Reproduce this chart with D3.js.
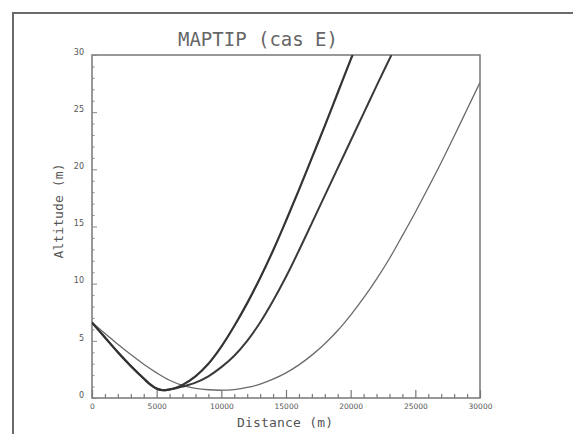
<!DOCTYPE html>
<html>
<head>
<meta charset="utf-8">
<script src="https://cdn.jsdelivr.net/npm/d3@7"></script>
<style>
  html, body { margin: 0; padding: 0; background: #fff; }
  svg { display: block; }
</style>
</head>
<body>
<script>
// Ray paths, distance (m) -> altitude (m)
const rayA = [[0,6.6],[1000,5.3],[2000,4.0],[3000,2.8],[4000,1.7],[4600,1.1],[5000,0.82],[5500,0.68],[6000,0.75],[6500,0.9],[7000,1.15],[8000,1.9],[9000,3.0],[10000,4.5],[11000,6.3],[12000,8.3],[13000,10.5],[14000,12.9],[15000,15.5],[16000,18.2],[17000,21.0],[18000,23.8],[19000,26.7],[20000,29.6],[20150,30]];
const rayB = [[0,6.6],[1000,5.3],[2000,4.0],[3000,2.8],[4000,1.7],[4600,1.1],[5000,0.82],[5500,0.68],[6000,0.75],[6500,0.85],[7000,1.0],[8000,1.35],[9000,1.9],[10000,2.7],[11000,3.7],[12000,5.0],[13000,6.6],[14000,8.5],[15000,10.6],[16000,12.9],[17000,15.3],[18000,17.7],[19000,20.1],[20000,22.5],[21000,24.9],[22000,27.3],[23150,30]];
const rayC = [[0,6.6],[1000,5.65],[2000,4.7],[3000,3.8],[4000,2.95],[5000,2.2],[6000,1.55],[7000,1.1],[8000,0.85],[9000,0.72],[10000,0.68],[11000,0.74],[12000,0.92],[13000,1.22],[14000,1.65],[15000,2.2],[16000,2.9],[17000,3.75],[18000,4.75],[19000,5.9],[20000,7.25],[21000,8.75],[22000,10.4],[23000,12.2],[24000,14.2],[25000,16.25],[26000,18.4],[27000,20.6],[28000,22.9],[29000,25.25],[30000,27.6]];

const xTicks = [0, 5000, 10000, 15000, 20000, 25000, 30000];
const yTicks = [0, 5, 10, 15, 20, 25, 30];

const width = 573, height = 434;
const margin = { top: 55, right: 93, bottom: 36, left: 92 };

const x = d3.scaleLinear().domain([0, 30000]).range([margin.left, width - margin.right]);
const y = d3.scaleLinear().domain([0, 30]).range([height - margin.bottom, margin.top]);

const svg = d3.select("body").append("svg")
  .attr("width", width)
  .attr("height", height);

// outer page frame (only top and left edges visible)
svg.append("path")
  .attr("d", `M13,${height} V13 H${width}`)
  .attr("fill", "none")
  .attr("stroke", "#6a6a6a")
  .attr("stroke-width", 2);

// title
svg.append("text")
  .attr("x", 258)
  .attr("y", 46)
  .attr("text-anchor", "middle")
  .attr("font-family", "DejaVu Sans Mono")
  .attr("font-size", 19)
  .attr("font-weight", 300)
  .attr("fill", "#666")
  .attr("textLength", 160)
  .text("MAPTIP (cas E)");

// plot box
svg.append("rect")
  .attr("x", x(0))
  .attr("y", y(30))
  .attr("width", x(30000) - x(0))
  .attr("height", y(0) - y(30))
  .attr("fill", "none")
  .attr("stroke", "#777")
  .attr("stroke-width", 1.5);

// x axis: minor ticks every 1000 m, pointing inward
const gx = svg.append("g")
  .attr("transform", `translate(0,${y(0)})`)
  .call(d3.axisTop(x).tickValues(d3.range(0, 30001, 1000)).tickSize(4).tickFormat(""));
gx.select(".domain").remove();
gx.selectAll(".tick line")
  .attr("stroke", "#777")
  .attr("stroke-width", 1.2)
  .attr("y2", d => d % 5000 === 0 ? -8 : -4);

const gxl = svg.append("g")
  .attr("transform", `translate(0,${y(0)})`)
  .call(d3.axisBottom(x).tickValues(xTicks).tickSize(0).tickPadding(6).tickFormat(d3.format("d")));
gxl.select(".domain").remove();
gxl.selectAll("text")
  .attr("font-family", "DejaVu Sans")
  .attr("font-size", 7.5)
  .attr("fill", "#555");

// y axis
const gy = svg.append("g")
  .attr("transform", `translate(${x(0)},0)`)
  .call(d3.axisRight(y).tickValues(d3.range(0, 31, 1)).tickSize(3).tickFormat(""));
gy.select(".domain").remove();
gy.selectAll(".tick line")
  .attr("stroke", "#888")
  .attr("stroke-width", 1)
  .attr("x2", d => d % 5 === 0 ? 5 : 2.5);

const gyl = svg.append("g")
  .attr("transform", `translate(${x(0)},0)`)
  .call(d3.axisLeft(y).tickValues(yTicks).tickSize(0).tickPadding(8));
gyl.select(".domain").remove();
gyl.selectAll("text")
  .attr("font-family", "DejaVu Sans")
  .attr("font-size", 8)
  .attr("dy", "-0.1em")
  .attr("fill", "#555");

// axis titles
svg.append("text")
  .attr("x", 285)
  .attr("y", 427)
  .attr("text-anchor", "middle")
  .attr("font-family", "DejaVu Sans Mono")
  .attr("font-size", 13)
  .attr("fill", "#555")
  .attr("textLength", 96)
  .text("Distance (m)");

svg.append("text")
  .attr("transform", "translate(63,211) rotate(-90)")
  .attr("text-anchor", "middle")
  .attr("font-family", "DejaVu Sans Mono")
  .attr("font-size", 13)
  .attr("fill", "#555")
  .attr("textLength", 95)
  .text("Altitude (m)");

svg.append("clipPath")
  .attr("id", "clip")
  .append("rect")
  .attr("x", x(0))
  .attr("y", y(30))
  .attr("width", x(30000) - x(0))
  .attr("height", y(0) - y(30));

const line = d3.line()
  .x(d => x(d[0]))
  .y(d => y(d[1]))
  .curve(d3.curveCatmullRom);

const curves = svg.append("g").attr("clip-path", "url(#clip)").attr("fill", "none");

curves.append("path")
  .attr("d", line(rayC))
  .attr("stroke", "#6a6a6a")
  .attr("stroke-width", 1.3);

curves.append("path")
  .attr("d", line(rayB))
  .attr("stroke", "#3a3a3a")
  .attr("stroke-width", 2);

curves.append("path")
  .attr("d", line(rayA))
  .attr("stroke", "#333")
  .attr("stroke-width", 2.2);
</script>
</body>
</html>
